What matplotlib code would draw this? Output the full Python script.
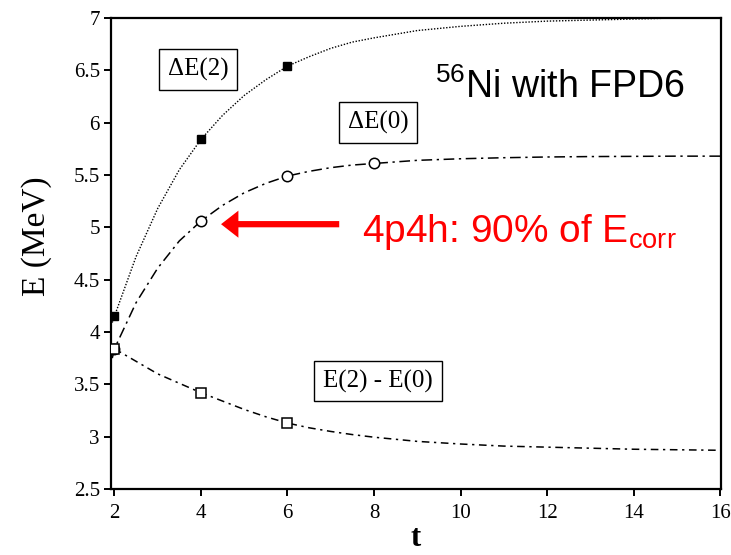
import matplotlib
matplotlib.use("Agg")
import matplotlib.pyplot as plt
from matplotlib.ticker import FuncFormatter

plt.rcParams["font.family"] = ["Liberation Serif", "DejaVu Serif"]
plt.rcParams["mathtext.fontset"] = "custom"
plt.rcParams["mathtext.rm"] = "Liberation Sans"
plt.rcParams["mathtext.it"] = "Liberation Sans:italic"

# computed points
t_pts = [2, 4, 6]
de2_pts = [4.15, 5.84, 6.54]          # Delta E(2), filled squares
t_pts0 = [2, 4, 6, 8]
de0_pts = [3.84, 5.06, 5.49, 5.61]    # Delta E(0), open circles
diff_pts = [3.84, 3.42, 3.13]         # E(2) - E(0), open squares

# fitted curves
t_fit = [1.95, 2, 2.5, 3, 3.5, 4, 4.5, 5, 5.5, 6, 6.5, 7, 7.5, 8,
         9, 10, 11, 12, 13, 14, 15, 16]
de2_fit = [4.09, 4.15, 4.72, 5.18, 5.55, 5.84, 6.07, 6.26, 6.41, 6.54,
           6.63, 6.71, 6.77, 6.81, 6.88, 6.92, 6.95, 6.97, 6.98, 6.99,
           7.0, 7.0]
de0_fit = [3.75, 3.84, 4.28, 4.61, 4.87, 5.06, 5.21, 5.33, 5.42, 5.49,
           5.535, 5.57, 5.595, 5.61, 5.64, 5.655, 5.665, 5.672, 5.676,
           5.678, 5.68, 5.68]
t_fit_d = [2, 2.5, 3, 3.5, 4, 4.5, 5, 5.5, 6, 6.5, 7, 7.5, 8,
           9, 10, 11, 12, 13, 14, 15, 16]
diff_fit = [3.84, 3.72, 3.60, 3.51, 3.42, 3.34, 3.26, 3.19, 3.13, 3.085,
            3.05, 3.02, 2.995, 2.955, 2.93, 2.91, 2.90, 2.89, 2.88, 2.875,
            2.87]

x_ticks = [2, 4, 6, 8, 10, 12, 14, 16]
y_ticks = [2.5, 3, 3.5, 4, 4.5, 5, 5.5, 6, 6.5, 7]

fig = plt.figure(figsize=(7.31, 5.55), dpi=100)
ax = fig.add_axes([0.1518, 0.1189, 0.8345, 0.8487])

ax.plot(t_fit, de2_fit, color="black", lw=1.0, linestyle=(0, (1, 1.2)))
ax.plot(t_fit, de0_fit, color="black", lw=1.1, linestyle=(0, (7, 3, 1.5, 3)))
ax.plot(t_fit_d, diff_fit, color="black", lw=1.1, linestyle=(0, (5, 3, 1.5, 3)))

ax.plot(t_pts, de2_pts, "s", color="black", ms=6, zorder=3)
ax.plot(t_pts0, de0_pts, "o", mfc="white", mec="black", mew=1.1, ms=7.5, zorder=3)
ax.plot(t_pts, diff_pts, "s", mfc="white", mec="black", mew=1.1, ms=7, zorder=3)

box = dict(boxstyle="square,pad=0.35", fc="white", ec="black", lw=1.0)
ax.text(3.94, 6.51, "ΔE(2)", fontsize=18, ha="center", va="center", bbox=box)
ax.text(8.09, 6.0, "ΔE(0)", fontsize=18, ha="center", va="center", bbox=box)
ax.text(8.09, 3.53, "E(2) - E(0)", fontsize=18, ha="center", va="center", bbox=box)

ax.text(9.4, 6.24, r"$^{\mathrm{56}}$Ni with FPD6", fontsize=27,
        family="Liberation Sans", ha="left", va="baseline")

ax.annotate("", xy=(4.4, 5.03), xytext=(7.26, 5.03),
            arrowprops=dict(arrowstyle="simple,head_length=1.25,head_width=1.95,tail_width=0.45",
                            color="#ff0000", lw=0, mutation_scale=10))
ax.text(7.72, 4.86, r"4p4h: 90% of E$_{\mathrm{corr}}$", fontsize=28,
        family="Liberation Sans", color="#ff0000", ha="left", va="baseline")

ax.set_xlim(1.92, 16.02)
ax.set_ylim(2.5, 7)
ax.set_xticks(x_ticks)
ax.set_yticks(y_ticks)
ax.yaxis.set_major_formatter(FuncFormatter(lambda v, p: f"{v:g}"))
ax.tick_params(direction="out", length=5, width=1.4, labelsize=15)
ax.tick_params(axis="x", pad=6)
ax.tick_params(axis="y", pad=3)
for s in ax.spines.values():
    s.set_linewidth(1.6)

ax.set_ylabel("E (MeV)", fontsize=24)
ax.yaxis.set_label_coords(-0.097, 0.537)
ax.set_xlabel("t", fontsize=22, fontweight="bold")
ax.xaxis.set_label_coords(0.5, -0.075)

fig.savefig("out.png", dpi=100)
